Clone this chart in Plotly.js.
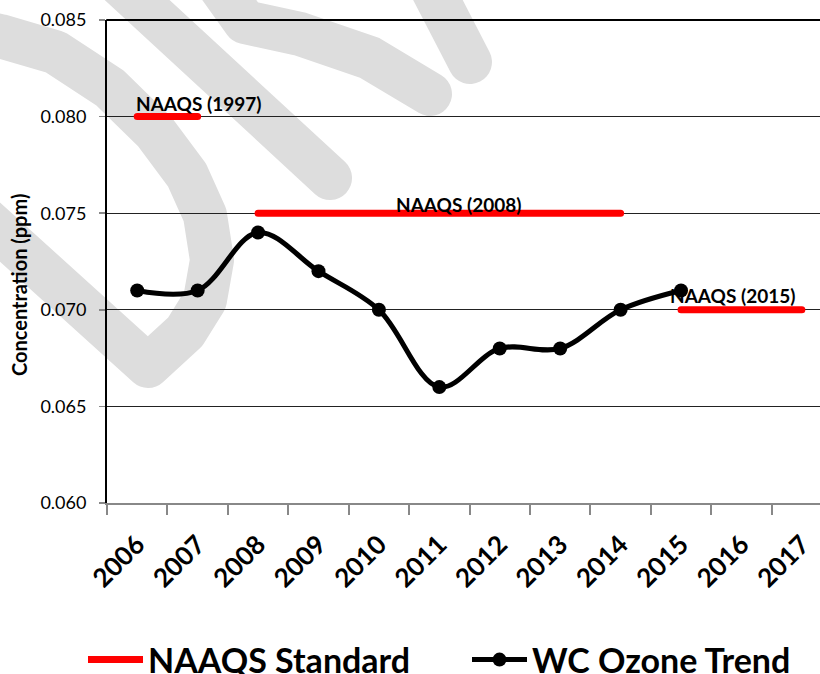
<!DOCTYPE html>
<html><head><meta charset="utf-8">
<script src="https://cdn.plot.ly/plotly-3.0.1.min.js"></script>
<style>
html,body{margin:0;padding:0;background:#fff;overflow:hidden}
#chart{width:820px;height:674px}
.shapelayer path{stroke-linecap:round;stroke-linejoin:round}
.scatterlayer .js-line{stroke-linecap:round}
</style></head><body><div id="chart"></div>
<script>
// ---- data ----
const years = ['2006','2007','2008','2009','2010','2011','2012','2013','2014','2015','2016','2017'];
const ozone = [0.071, 0.071, 0.074, 0.072, 0.070, 0.066, 0.068, 0.068, 0.070, 0.071];
const naaqs1997 = [0.080, 0.080, null, null, null, null, null, null, null, null, null, null];
const naaqs2008 = [null, null, 0.075, 0.075, 0.075, 0.075, 0.075, 0.075, 0.075, null, null, null];
const naaqs2015 = [null, null, null, null, null, null, null, null, null, 0.070, 0.070, 0.070];
const naaqsLabels = ['NAAQS (1997)', 'NAAQS (2008)', 'NAAQS (2015)'];
const naaqsLevels = [0.080, 0.075, 0.070];
const yTicks = [0.060, 0.065, 0.070, 0.075, 0.080, 0.085];

// ---- layout geometry ----
const FW = 820, FH = 674;
const M = {l:107, r:0, t:20, b:171, pad:0};
const PW = FW - M.l - M.r, PH = FH - M.t - M.b;
function pathPx(pts){
  return 'M' + pts.map(p => ((p[0]-M.l)/PW).toFixed(4) + ',' + ((FH-M.b-p[1])/PH).toFixed(4)).join(' L');
}
// decorative background watermark strokes (pixel centerlines)
const wmStrokes = [
  [[-40,28],[0,36],[55,52],[110,88],[155,132],[187,175],[205,215],[212,260],[205,300],[185,332],[148,366],[-40,196]],
  [[110,-25],[330,178]],
  [[215,-20],[245,22],[300,34],[370,58],[430,94]],
  [[425,-25],[470,62]]
];
const wmShapes = wmStrokes.map(s => ({
  type:'path', xref:'paper', yref:'paper', layer:'below',
  path: pathPx(s), line:{color:'rgb(221,221,221)', width:44}
}));

const font = 'Lato, "Open Sans", sans-serif';
const redLine = {color:'#ff0000', width:7};

const traces = [
  {x: years, y: naaqs1997, type:'scatter', mode:'lines', name:'NAAQS Standard',
   legend:'legend', legendgroup:'naaqs', line: redLine, connectgaps:false, hoverinfo:'skip'},
  {x: years, y: naaqs2008, type:'scatter', mode:'lines', name:'NAAQS Standard',
   legendgroup:'naaqs', showlegend:false, line: redLine, connectgaps:false, hoverinfo:'skip'},
  {x: years, y: naaqs2015, type:'scatter', mode:'lines', name:'NAAQS Standard',
   legendgroup:'naaqs', showlegend:false, line: redLine, connectgaps:false, hoverinfo:'skip'},
  {x: years.slice(0, ozone.length), y: ozone, type:'scatter', mode:'lines+markers', name:'WC Ozone Trend',
   legend:'legend2',
   line:{color:'#000', width:5, shape:'spline', smoothing:1},
   marker:{color:'#000', size:14}}
];

const labelX = [0, 4.3, 8.84];
const labelShift = [0, -5, 1];
const annotations = naaqsLabels.map((t,i) => ({
  text: t, x: labelX[i], y: naaqsLevels[i], xref:'x', yref:'y',
  xanchor:'left', yanchor:'bottom', showarrow:false, xshift:-3, yshift: labelShift[i],
  font:{family: font, size:19, color:'#000', weight:'bold'}
}));
annotations.push({
  text:'Concentration (ppm)', textangle:-90, showarrow:false,
  xref:'paper', yref:'paper', x:(19 - M.l)/PW, y:(FH - M.b - 285)/PH,
  xanchor:'center', yanchor:'middle',
  font:{family: font, size:20, color:'#000', weight:'bold'}
});

const legendFont = {family: font, size:34, color:'#000', weight:'bold'};
const legendBase = {orientation:'h', xref:'container', yref:'container', yanchor:'middle',
  y: 1 - 660/FH, xanchor:'left', font: legendFont, itemwidth:55,
  bgcolor:'rgba(0,0,0,0)', borderwidth:0};

const layout = {
  width: FW, height: FH,
  margin: M,
  paper_bgcolor:'#fff', plot_bgcolor:'rgba(0,0,0,0)',
  showlegend: true,
  legend: Object.assign({}, legendBase, {x: 83/FW}),
  legend2: Object.assign({}, legendBase, {x: 467/FW}),
  xaxis:{type:'category', range:[-0.5, 11.3], tickson:'boundaries', ticks:'outside',
    ticklen:10, tickwidth:2, tickcolor:'#888', showline:true, linecolor:'#888', linewidth:2,
    showgrid:false, zeroline:false, tickangle:-45, fixedrange:true, automargin:false,
    ticklabelstandoff:14,
    tickfont:{family: font, size:26, color:'#000', weight:'bold'}},
  yaxis:{range:[0.060, 0.085], tickvals: yTicks, tickformat:'.3f', ticks:'outside', ticklen:6,
    tickwidth:1.5, tickcolor:'#888', showline:true, linecolor:'#000', linewidth:2,
    showgrid:true, gridcolor:'#222', gridwidth:1, zeroline:false, fixedrange:true, automargin:false,
    ticklabelstandoff:9,
    tickfont:{family: font, size:18, color:'#000'}},
  shapes: wmShapes.concat([
    {type:'line', xref:'paper', yref:'paper', x0:0, x1:1, y0:1, y1:1, layer:'above',
     line:{color:'#000', width:2}}
  ]),
  annotations: annotations
};

Plotly.newPlot('chart', traces, layout, {displayModeBar:false, staticPlot:true});
</script></body></html>
